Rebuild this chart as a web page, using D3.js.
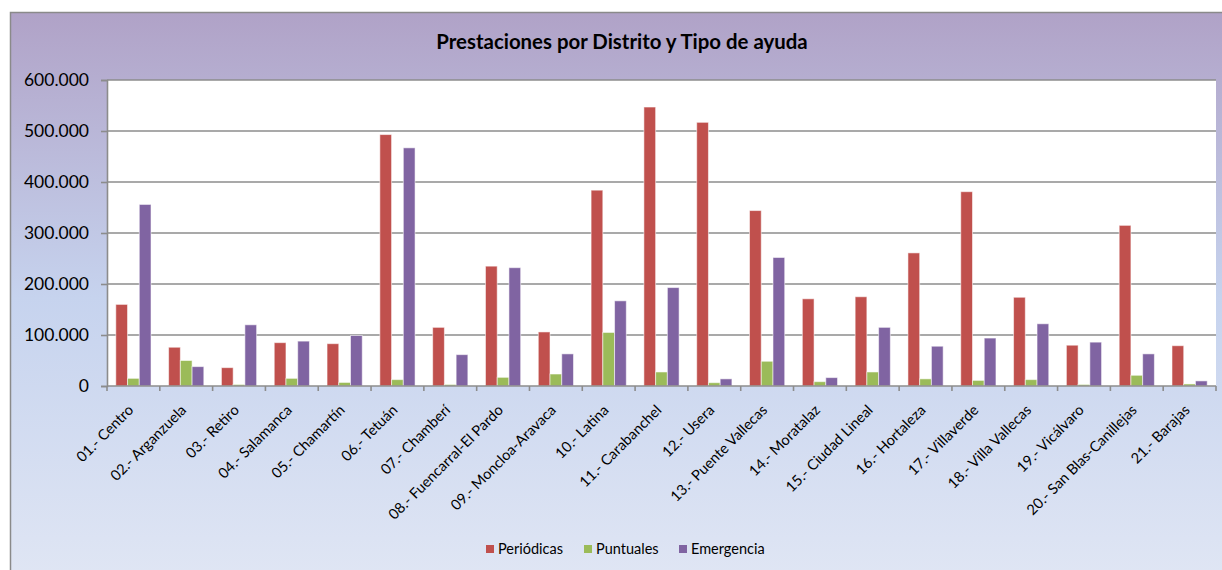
<!DOCTYPE html>
<html>
<head>
<meta charset="utf-8">
<script src="https://cdn.jsdelivr.net/npm/d3@7/dist/d3.min.js"></script>
<style>
  html, body { margin: 0; padding: 0; background: #ffffff; }
  svg { display: block; font-family: Lato, "Open Sans", sans-serif; }
</style>
</head>
<body>
<svg id="chart" width="1222" height="570"></svg>
<script>
// Districts of Madrid
const districts = [
  "01.- Centro", "02.- Arganzuela", "03.- Retiro", "04.- Salamanca",
  "05.- Chamartín", "06.- Tetuán", "07.- Chamberí", "08.- Fuencarral-El Pardo",
  "09.- Moncloa-Aravaca", "10.- Latina", "11.- Carabanchel", "12.- Usera",
  "13.- Puente Vallecas", "14.- Moratalaz", "15.- Ciudad Lineal", "16.- Hortaleza",
  "17.- Villaverde", "18.- Villa Vallecas", "19.- Vicálvaro",
  "20.- San Blas-Canillejas", "21.- Barajas"
];

// Series names
const seriesNames = ["Periódicas", "Puntuales", "Emergencia"];

// Values per series, one per district
const periodicas = [160000, 76000, 36000, 85000, 83000, 493000, 115000, 235000,
  106000, 384000, 547000, 517000, 344000, 171000, 175000, 261000, 381000,
  174000, 80000, 315000, 79000];
const puntuales = [15000, 50000, 3000, 15000, 7000, 12500, 3000, 17000,
  23500, 105000, 27500, 6500, 48500, 8500, 27500, 14000, 11000,
  12500, 3000, 21000, 4000];
const emergencia = [356000, 38000, 120000, 88000, 99000, 467000, 61500, 232000,
  63000, 167000, 193000, 14000, 252000, 16500, 115000, 78000, 94000,
  122000, 86000, 63000, 10000];

// Y axis ticks
const yTicks = [0, 100000, 200000, 300000, 400000, 500000, 600000];

const colors = ["#c0504d", "#9bbb59", "#8064a2"];
const seriesValues = [periodicas, puntuales, emergencia];

const svg = d3.select("#chart");

// Background gradient of the chart frame
const defs = svg.append("defs");
const grad = defs.append("linearGradient")
  .attr("id", "bg").attr("x1", 0).attr("y1", 0).attr("x2", 0).attr("y2", 1);
grad.append("stop").attr("offset", "0%").attr("stop-color", "#b0a2c7");
grad.append("stop").attr("offset", "50%").attr("stop-color", "#c6d3ee");
grad.append("stop").attr("offset", "100%").attr("stop-color", "#e0e6f4");

svg.append("rect")
  .attr("x", 10.5).attr("y", 12.5).attr("width", 1222).attr("height", 570)
  .attr("fill", "url(#bg)").attr("stroke", "#8a8a8a").attr("stroke-width", 1.5);

// Title
svg.append("text")
  .attr("x", 622).attr("y", 49)
  .attr("text-anchor", "middle")
  .attr("font-size", 20.4).attr("font-weight", "bold")
  .attr("fill", "#000")
  .text("Prestaciones por Distrito y Tipo de ayuda");

const plot = { left: 107, right: 1216, top: 80, bottom: 386 };

const x = d3.scaleBand().domain(districts).range([plot.left, plot.right]);
const xs = d3.scaleBand().domain(seriesNames).range([0, x.bandwidth()])
  .paddingInner(0).paddingOuter(0.75);
const y = d3.scaleLinear().domain([0, 600000]).range([plot.bottom, plot.top]);

const locale = d3.formatLocale({ decimal: ",", thousands: ".", grouping: [3], currency: ["", "€"] });
const fmt = locale.format(",d");

// Plot area
svg.append("rect")
  .attr("x", plot.left).attr("y", plot.top)
  .attr("width", plot.right - plot.left).attr("height", plot.bottom - plot.top)
  .attr("fill", "#ffffff");

// Gridlines
svg.append("g").selectAll("line").data(yTicks.filter(d => d > 0)).join("line")
  .attr("x1", plot.left).attr("x2", plot.right)
  .attr("y1", d => y(d)).attr("y2", d => y(d))
  .attr("stroke", "#8c8c8c").attr("stroke-width", 1.6);

// Bars
const groups = svg.append("g").selectAll("g").data(districts).join("g")
  .attr("transform", d => `translate(${x(d)},0)`);
groups.selectAll("rect")
  .data((d, i) => seriesNames.map((s, k) => ({ s, k, v: seriesValues[k][i] })))
  .join("rect")
  .attr("x", d => xs(d.s))
  .attr("width", xs.bandwidth())
  .attr("y", d => y(d.v))
  .attr("height", d => y(0) - y(d.v))
  .attr("fill", d => colors[d.k])
  .attr("stroke", "#ffffff").attr("stroke-opacity", 0.55).attr("stroke-width", 1);

// Y axis
const yAxis = d3.axisLeft(y).tickValues(yTicks).tickFormat(fmt).tickSize(6).tickPadding(8);
const gy = svg.append("g").attr("transform", `translate(${plot.left},0)`).call(yAxis);
gy.select(".domain").attr("stroke", "#8c8c8c").attr("stroke-width", 1.6);
gy.selectAll(".tick line").attr("stroke", "#8c8c8c").attr("stroke-width", 1.6);
gy.selectAll(".tick text")
  .attr("font-family", "Lato, sans-serif").attr("font-size", 17.5).attr("fill", "#000")
  .attr("dx", -4);

// X axis: tick marks at category boundaries
const gx = svg.append("g");
gx.append("line")
  .attr("x1", plot.left).attr("x2", plot.right)
  .attr("y1", plot.bottom).attr("y2", plot.bottom)
  .attr("stroke", "#8c8c8c").attr("stroke-width", 1.6);
gx.selectAll("line.tick").data(districts.concat([null])).join("line")
  .attr("class", "tick")
  .attr("x1", (d, i) => plot.left + i * x.step())
  .attr("x2", (d, i) => plot.left + i * x.step())
  .attr("y1", plot.bottom).attr("y2", plot.bottom + 5)
  .attr("stroke", "#8c8c8c").attr("stroke-width", 1.6);

// Rotated category labels
gx.selectAll("text").data(districts).join("text")
  .attr("transform", d => `translate(${x(d) + x.bandwidth() / 2 + 1},${plot.bottom + 25}) rotate(-45)`)
  .attr("text-anchor", "end")
  .attr("font-size", 14.6).attr("fill", "#000")
  .text(d => d);

// Legend
const legendX = [486, 584, 679];
const lg = svg.append("g").selectAll("g").data(seriesNames).join("g")
  .attr("transform", (d, i) => `translate(${legendX[i]},545)`);
lg.append("rect").attr("width", 8).attr("height", 8).attr("fill", (d, i) => colors[i]);
lg.append("text").attr("x", 12).attr("y", 9)
  .attr("font-size", 14.5).attr("fill", "#000").text(d => d);
</script>
</body>
</html>
